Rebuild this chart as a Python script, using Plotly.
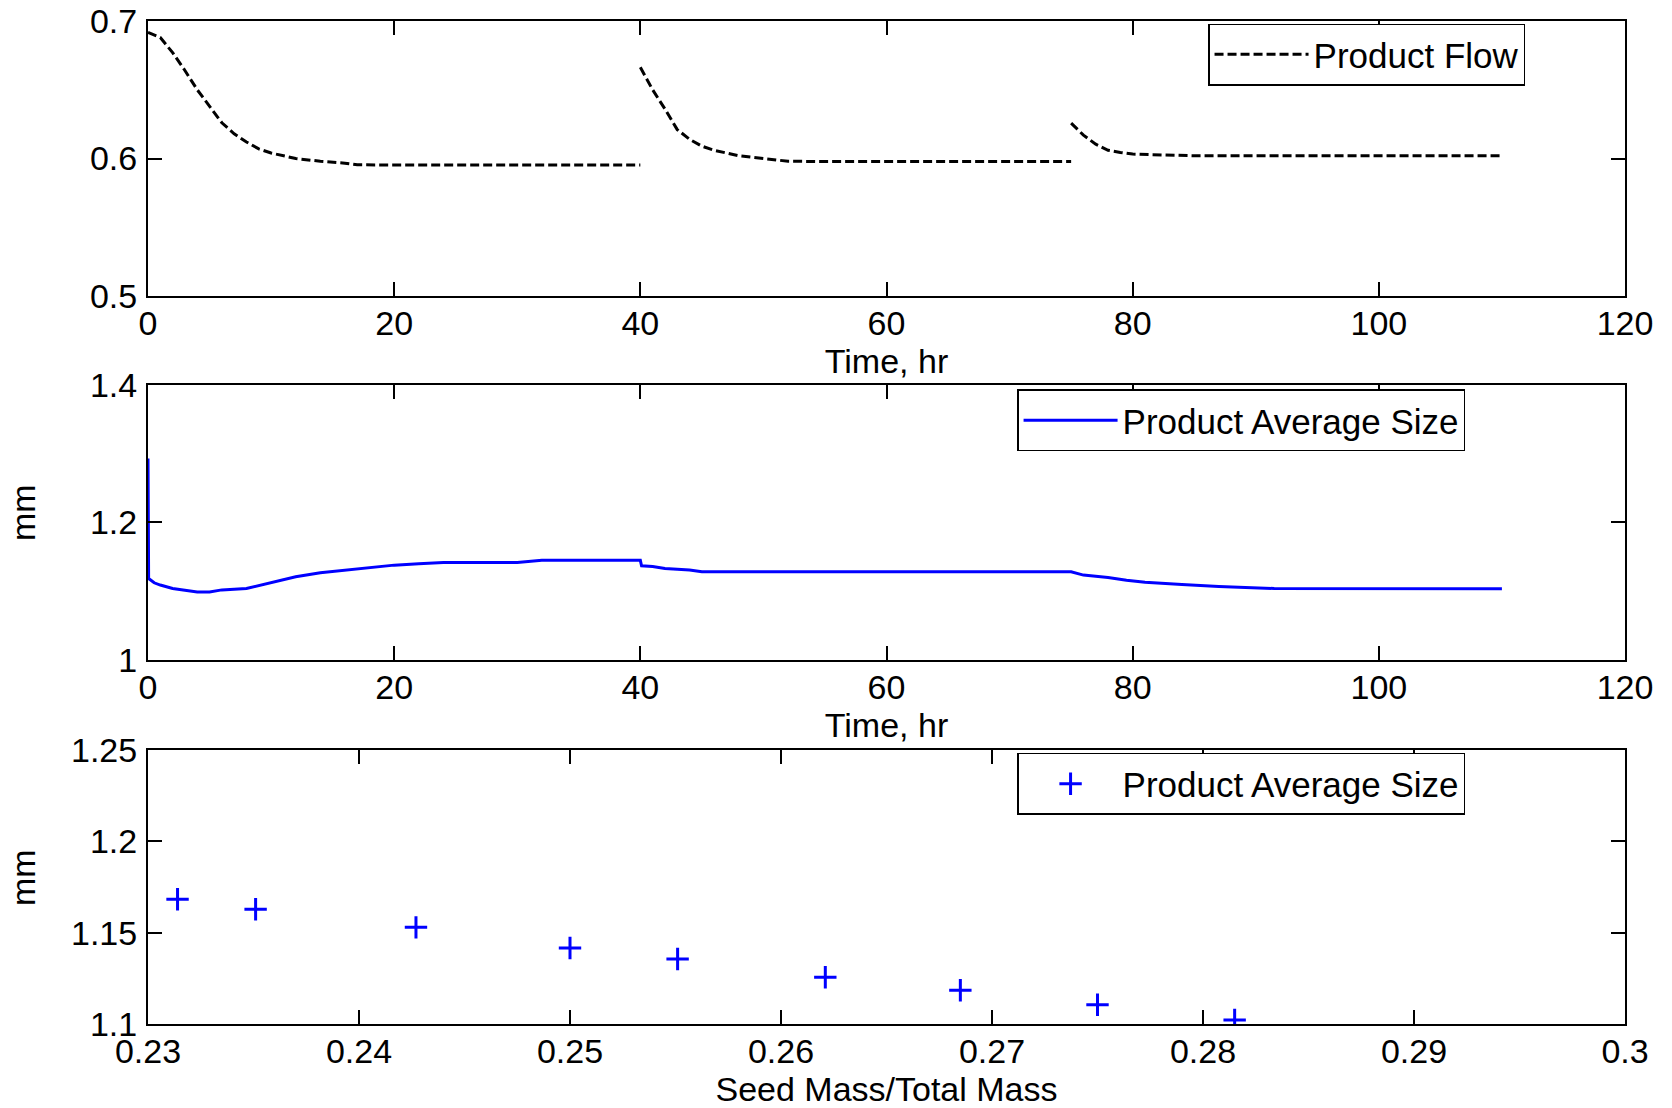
import plotly.graph_objects as go

# ---- data ----
flow_t = [0, 1, 2, 3, 4, 5, 6, 7, 8, 9, 10, 12, 14, 16, 17, 20, 25, 30, 35, 40,
          None,
          40, 41, 42, 43, 44, 45, 46, 48, 50, 52, 55, 60, 65, 70, 75,
          None,
          75, 76, 77, 78, 79, 80, 85, 90, 95, 100, 105, 110]
flow_v = [0.6917, 0.688, 0.677, 0.664, 0.650, 0.638, 0.626, 0.618, 0.612, 0.607, 0.604,
          0.600, 0.598, 0.5966, 0.5954, 0.5953, 0.5953, 0.5953, 0.5953, 0.5953,
          None,
          0.6663, 0.650, 0.636, 0.621, 0.614, 0.609, 0.606, 0.602, 0.600, 0.598,
          0.5978, 0.5978, 0.5978, 0.5978, 0.5978,
          None,
          0.6257, 0.617, 0.6104, 0.606, 0.6044, 0.6032, 0.602, 0.602, 0.602, 0.602, 0.602, 0.602]

size_t = [0, 0.05, 0.5, 1, 2, 3, 4, 5, 6, 8, 10, 12, 14, 16, 18, 20, 22, 24, 30, 32, 40,
          40.1, 41, 42, 44, 45, 50, 60, 70, 75, 76, 78, 79.5, 81, 84, 87, 91.5, 100, 110]
size_v = [1.293, 1.1186, 1.1123, 1.109, 1.104, 1.102, 1.099, 1.099, 1.102, 1.104, 1.113,
          1.121, 1.127, 1.131, 1.134, 1.138, 1.140, 1.142, 1.142, 1.145, 1.145,
          1.137, 1.136, 1.133, 1.131, 1.1283, 1.1283, 1.1283, 1.1283, 1.1283, 1.1235,
          1.120, 1.116, 1.113, 1.110, 1.107, 1.104, 1.1036, 1.1036]

seed_ratio = [0.2314, 0.2351, 0.2427, 0.2500, 0.2551, 0.2621, 0.2685, 0.2750, 0.2815]
seed_size = [1.1683, 1.1628, 1.1529, 1.1416, 1.1356, 1.1256, 1.1185, 1.1105, 1.1022]

time_ticks = [0, 20, 40, 60, 80, 100, 120]
time_labels = ["0", "20", "40", "60", "80", "100", "120"]
flow_ticks = [0.5, 0.6, 0.7]
flow_labels = ["0.5", "0.6", "0.7"]
size_ticks = [1.0, 1.2, 1.4]
size_labels = ["1", "1.2", "1.4"]
ratio_ticks = [0.23, 0.24, 0.25, 0.26, 0.27, 0.28, 0.29, 0.30]
ratio_labels = ["0.23", "0.24", "0.25", "0.26", "0.27", "0.28", "0.29", "0.3"]
mm_ticks = [1.1, 1.15, 1.2, 1.25]
mm_labels = ["1.1", "1.15", "1.2", "1.25"]

FONT = "Liberation Sans, Arial, sans-serif"
FS = 34
LFS = 35

fig = go.Figure()
fig.add_trace(go.Scatter(x=flow_t, y=flow_v, mode="lines", name="Product Flow",
                         line=dict(color="black", width=3, dash="9px,4px"),
                         connectgaps=False, xaxis="x", yaxis="y", legend="legend"))
fig.add_trace(go.Scatter(x=size_t, y=size_v, mode="lines", name="Product Average Size",
                         line=dict(color="#0000ff", width=3),
                         xaxis="x2", yaxis="y2", legend="legend2"))
fig.add_trace(go.Scatter(x=seed_ratio, y=seed_size, mode="markers", name="Product Average Size",
                         marker=dict(symbol="cross-thin", size=16,
                                     line=dict(color="#0000ff", width=3)),
                         xaxis="x3", yaxis="y3", legend="legend3"))

axis_common = dict(showline=True, linecolor="black", linewidth=2, mirror="ticks",
                   ticks="inside", ticklen=14, tickwidth=1.5, tickcolor="black",
                   showgrid=False, zeroline=False, automargin=False,
                   tickfont=dict(family=FONT, size=FS, color="black"))
xcommon = dict(ticklabelstandoff=-4, **axis_common)
ycommon = dict(ticklabelstandoff=2, **axis_common)
title_font = dict(family=FONT, size=FS, color="black")

legend_common = dict(xanchor="left", yanchor="middle", bordercolor="black",
                     borderwidth=1.5, bgcolor="white", itemwidth=94,
                     font=dict(family=FONT, size=LFS, color="black"))

fig.update_layout(
    width=1672, height=1108,
    margin=dict(l=148, r=47, t=21, b=84),
    paper_bgcolor="white", plot_bgcolor="white",
    font=dict(family=FONT, size=FS, color="black"),
    xaxis=dict(domain=[0, 1], range=[0, 120], tickvals=time_ticks, ticktext=time_labels,
               anchor="y", title=dict(text="Time, hr", standoff=4, font=title_font), **xcommon),
    yaxis=dict(domain=[0.7258, 1.0], range=[0.5, 0.7], tickvals=flow_ticks,
               ticktext=flow_labels, anchor="x", **ycommon),
    xaxis2=dict(domain=[0, 1], range=[0, 120], tickvals=time_ticks, ticktext=time_labels,
                anchor="y2", title=dict(text="Time, hr", standoff=4, font=title_font), **xcommon),
    yaxis2=dict(domain=[0.3629, 0.6371], range=[1.0, 1.4], tickvals=size_ticks,
                ticktext=size_labels, anchor="x2", **ycommon),
    xaxis3=dict(domain=[0, 1], range=[0.23, 0.30], tickvals=ratio_ticks, ticktext=ratio_labels,
                anchor="y3", title=dict(text="Seed Mass/Total Mass", standoff=5, font=title_font),
                **xcommon),
    yaxis3=dict(domain=[0.0, 0.2732], range=[1.1, 1.25], tickvals=mm_ticks,
                ticktext=mm_labels, anchor="x3", **ycommon),
    legend=dict(x=0.7177, y=0.9666, **legend_common),
    legend2=dict(x=0.5884, y=0.6017, **legend_common),
    legend3=dict(x=0.5884, y=0.2393, **legend_common),
    showlegend=True,
    annotations=[
        dict(text="mm", xref="paper", yref="paper", x=-0.0846, y=0.5095,
             textangle=-90, showarrow=False, xanchor="center", yanchor="middle",
             font=title_font),
        dict(text="mm", xref="paper", yref="paper", x=-0.0846, y=0.1456,
             textangle=-90, showarrow=False, xanchor="center", yanchor="middle",
             font=title_font),
    ],
)

fig.write_html("out.html")
